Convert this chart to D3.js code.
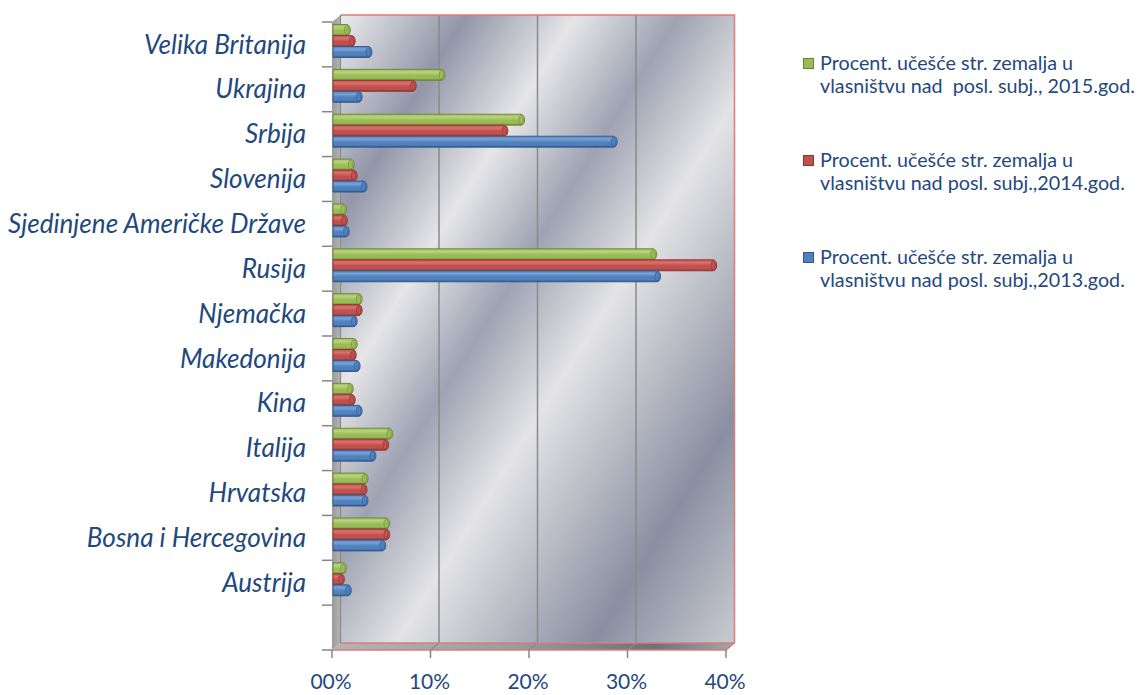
<!DOCTYPE html>
<html>
<head>
<meta charset="utf-8">
<script src="https://cdn.jsdelivr.net/npm/d3@7"></script>
<style>
  body { margin: 0; background: #fff; }
  text { font-family: Lato, "Open Sans", sans-serif; fill: #1f497d; }
</style>
</head>
<body>
<svg id="chart" width="1137" height="695"></svg>
<script>
// podaci (odozgo prema dolje, kao na slici)
const countries = [
  "Velika Britanija", "Ukrajina", "Srbija", "Slovenija",
  "Sjedinjene Američke Države", "Rusija", "Njemačka", "Makedonija",
  "Kina", "Italija", "Hrvatska", "Bosna i Hercegovina", "Austrija"
];
const values2015 = [1.3, 10.9, 19.0, 1.7, 0.9, 32.4, 2.5, 2.0, 1.6, 5.6, 3.1, 5.3, 0.9];
const values2014 = [1.8, 8.0, 17.3, 2.0, 1.0, 38.5, 2.5, 1.9, 1.8, 5.2, 3.0, 5.3, 0.7];
const values2013 = [3.5, 2.5, 28.4, 3.0, 1.2, 32.8, 2.0, 2.3, 2.5, 3.9, 3.1, 4.9, 1.4];
const seriesLabels = [
  ["Procent. učešće str. zemalja u", "vlasništvu nad  posl. subj., 2015.god."],
  ["Procent. učešće str. zemalja u", "vlasništvu nad posl. subj.,2014.god."],
  ["Procent. učešće str. zemalja u", "vlasništvu nad posl. subj.,2013.god."]
];
const xTicks = [0, 10, 20, 30, 40];
const xTickLabels = ["00%", "10%", "20%", "30%", "40%"];

const series = [values2015, values2014, values2013];
const colors = [
  { light: "#b9d57c", mid: "#9bbb59", dark: "#6f8a37", line: "#6a8434" },
  { light: "#dc726e", mid: "#c0504d", dark: "#8c3633", line: "#8a3532" },
  { light: "#79a2d8", mid: "#4f81bd", dark: "#2d5a90", line: "#345887" }
];

const svg = d3.select("#chart");
const defs = svg.append("defs");

// 3D geometrija
const dx = 8.5, dy = -7;
const front = { left: 332, right: 726, top: 22, bottom: 650 };

const x = d3.scaleLinear().domain([0, 40]).range([front.left, front.right]);
const y = d3.scaleBand().domain([...countries, "__"]).range([front.top, front.bottom]);
const sub = d3.scaleBand().domain([0, 1, 2]).range([2.5, 35.5]);

// pozadina zida - metalni gradijent
const wallGrad = defs.append("linearGradient").attr("id", "wall")
  .attr("x1", 0).attr("y1", 0).attr("x2", 1).attr("y2", 1);
[
  [0, "#ececee"], [0.16, "#9296a8"], [0.3, "#e6e6e8"], [0.43, "#9ea2b2"],
  [0.57, "#e4e4e6"], [0.82, "#8a8fa1"], [1, "#c9cbd1"]
].forEach(([o, c]) => wallGrad.append("stop").attr("offset", o).attr("stop-color", c));

const floorGrad = defs.append("linearGradient").attr("id", "floor")
  .attr("x1", 0).attr("y1", 0).attr("x2", 1).attr("y2", 0);
[
  [0, "#b4b4b6"], [0.45, "#9a9ca2"], [0.8, "#6d7178"], [1, "#a4a6aa"]
].forEach(([o, c]) => floorGrad.append("stop").attr("offset", o).attr("stop-color", c));

const sideGrad = defs.append("linearGradient").attr("id", "side")
  .attr("x1", 0).attr("y1", 0).attr("x2", 1).attr("y2", 0);
sideGrad.append("stop").attr("offset", 0).attr("stop-color", "#9a9a9a");
sideGrad.append("stop").attr("offset", 1).attr("stop-color", "#b4b4b4");

colors.forEach((c, i) => {
  const g = defs.append("linearGradient").attr("id", "bar" + i)
    .attr("x1", 0).attr("y1", 0).attr("x2", 0).attr("y2", 1);
  g.append("stop").attr("offset", 0).attr("stop-color", c.mid);
  g.append("stop").attr("offset", 0.25).attr("stop-color", c.light);
  g.append("stop").attr("offset", 0.55).attr("stop-color", c.mid);
  g.append("stop").attr("offset", 0.8).attr("stop-color", c.mid);
  g.append("stop").attr("offset", 1).attr("stop-color", c.dark);
});

const backL = x(0) + dx, backR = x(40) + dx;
const backT = front.top + dy, backB = front.bottom + dy;

// zadnji zid
svg.append("rect")
  .attr("x", backL).attr("y", backT)
  .attr("width", backR - backL).attr("height", backB - backT)
  .attr("fill", "url(#wall)");

// lijevi zid
svg.append("path")
  .attr("d", `M${front.left},${front.top}L${backL},${backT}L${backL},${backB}L${front.left},${front.bottom}Z`)
  .attr("fill", "url(#side)");

// pod
svg.append("path")
  .attr("d", `M${front.left},${front.bottom}L${front.right},${front.bottom}L${backR},${backB}L${backL},${backB}Z`)
  .attr("fill", "url(#floor)");

// mreža
xTicks.slice(1, -1).forEach((t) => {
  svg.append("line")
    .attr("x1", x(t) + dx).attr("x2", x(t) + dx)
    .attr("y1", backT).attr("y2", backB)
    .attr("stroke", "#8a8a8a").attr("stroke-width", 1.5);
  svg.append("line")
    .attr("x1", x(t) + dx).attr("y1", backB)
    .attr("x2", x(t)).attr("y2", front.bottom)
    .attr("stroke", "#8a8a8a").attr("stroke-width", 1.2);
});
svg.append("line")
  .attr("x1", backL).attr("x2", backL).attr("y1", backT).attr("y2", backB)
  .attr("stroke", "#8a8a8a").attr("stroke-width", 1.2);

// crveni okvir
const red = "#d87d7a";
svg.append("path")
  .attr("d", `M${backL},${backT}L${backR},${backT}L${backR},${backB}L${front.right},${front.bottom}L${front.left},${front.bottom}`)
  .attr("fill", "none").attr("stroke", red).attr("stroke-width", 1.5);
svg.append("line")
  .attr("x1", backL).attr("x2", backR).attr("y1", backB).attr("y2", backB)
  .attr("stroke", red).attr("stroke-width", 1.5);

// osa kategorija - crtice
const bandEdges = y.domain().map((d) => y(d)).concat([front.bottom]);
svg.selectAll("line.ytick").data(bandEdges).enter().append("line")
  .attr("class", "ytick")
  .attr("x1", front.left - 10).attr("x2", front.left)
  .attr("y1", (d) => d).attr("y2", (d) => d)
  .attr("stroke", "#868686").attr("stroke-width", 1.5);

// x osa - crtice i oznake
svg.selectAll("line.xtick").data(xTicks).enter().append("line")
  .attr("class", "xtick")
  .attr("x1", (d) => x(d)).attr("x2", (d) => x(d))
  .attr("y1", front.bottom).attr("y2", front.bottom + 8)
  .attr("stroke", "#868686").attr("stroke-width", 1.5);

svg.selectAll("text.xlab").data(xTicks).enter().append("text")
  .attr("class", "xlab")
  .attr("x", (d) => x(d) - 1).attr("y", 689)
  .attr("text-anchor", "middle")
  .style("font-size", "21px")
  .text((d, i) => xTickLabels[i]);

// stupci (cilindri)
const barX = (v) => x(v) + 2;
const bars = svg.append("g");
countries.forEach((c, i) => {
  series.forEach((vals, j) => {
    const v = vals[i];
    const h = sub.bandwidth();
    const by = y(c) + sub(j);
    const x0 = front.left + 1, x1 = barX(v);
    const col = colors[j];
    const r = h / 2;
    bars.append("path")
      .attr("d", `M${x0},${by}H${x1}A3.5,${r} 0 0 1 ${x1},${by + h}H${x0}Z`)
      .attr("fill", `url(#bar${j})`)
      .attr("stroke", col.line).attr("stroke-width", 0.9);
    bars.append("ellipse")
      .attr("cx", x1).attr("cy", by + r)
      .attr("rx", 2.2).attr("ry", r - 1.2)
      .attr("fill", col.mid)
      .attr("stroke", col.dark).attr("stroke-width", 0.6);
  });
});

// nazivi zemalja
const ylab = svg.selectAll("text.ylab").data(countries).enter().append("text")
  .attr("class", "ylab")
  .attr("x", 306)
  .attr("y", (d) => y(d) + y.bandwidth() / 2)
  .attr("dy", "0.35em")
  .attr("text-anchor", "end")
  .style("font-style", "italic")
  .style("font-size", "21px")
  .text((d) => d);
const longest = ylab.filter((d) => d === "Sjedinjene Američke Države").node();
const fs = 21 * 298 / longest.getComputedTextLength();
ylab.style("font-size", fs + "px");

// legenda
const legend = svg.append("g");
seriesLabels.forEach((lines, i) => {
  const gy = 58 + i * 97;
  legend.append("rect")
    .attr("x", 803.5).attr("y", gy + 0.5)
    .attr("width", 10).attr("height", 10)
    .attr("fill", colors[i].mid)
    .attr("stroke", colors[i].line).attr("stroke-width", 1);
  lines.forEach((t, k) => {
    legend.append("text")
      .attr("class", "leg")
      .attr("x", 820).attr("y", gy + 11.5 + k * 23.5)
      .attr("xml:space", "preserve")
      .style("white-space", "pre")
      .style("font-size", "17px")
      .text(t);
  });
});
const legRef = legend.selectAll("text.leg").nodes()[3];
const lfs = 17 * 305 / legRef.getComputedTextLength();
legend.selectAll("text.leg").style("font-size", lfs + "px");
</script>
</body>
</html>
